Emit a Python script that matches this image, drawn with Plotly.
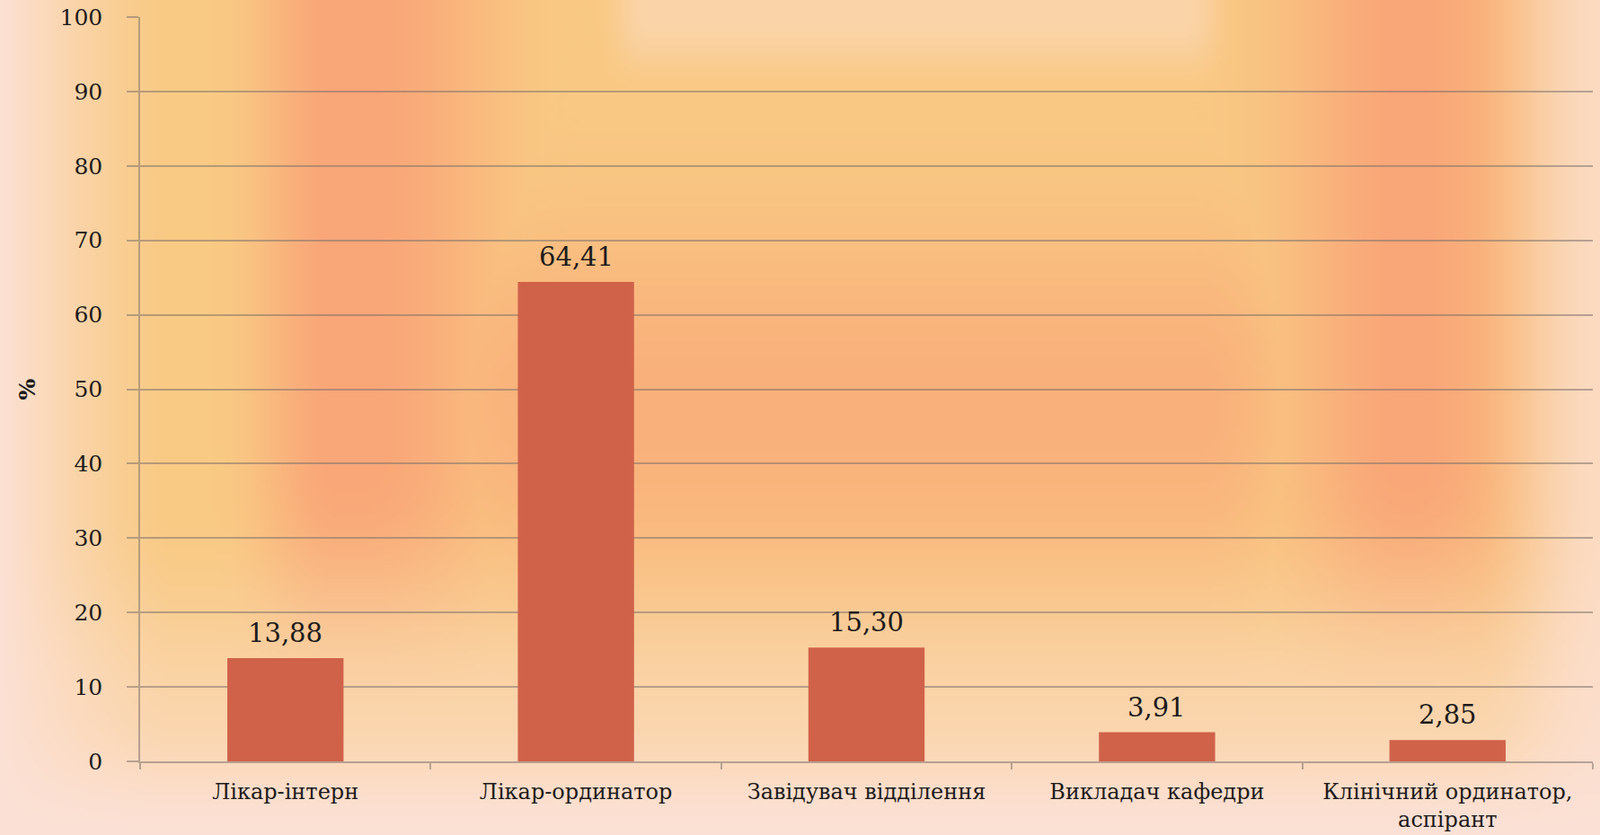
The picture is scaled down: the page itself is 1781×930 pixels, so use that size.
import base64
import struct
import zlib

import numpy as np
import plotly.graph_objects as go

# ---------------- data ----------------
categories = [
    "Лікар-інтерн",
    "Лікар-ординатор",
    "Завідувач відділення",
    "Викладач кафедри",
    "Клінічний ординатор,<br>аспірант",
]
values = [13.88, 64.41, 15.30, 3.91, 2.85]
y_ticks = [0, 10, 20, 30, 40, 50, 60, 70, 80, 90, 100]
y_title = "%"

# ---------------- figure geometry ----------------
W, H = 1781, 930
ML, MR, MT, MB = 156, 8, 19, 82
PW, PH = W - ML - MR, H - MT - MB


# ---------------- decorative background (gradient image) ----------------
def smoothstep(a, b, x):
    t = np.clip((x - a) / (b - a), 0, 1)
    return t * t * (3 - 2 * t)


def make_background(w=446, h=233):
    xs = (np.arange(w) + 0.5) * W / w
    ys = (np.arange(h) + 0.5) * H / h
    X, Y = np.meshgrid(xs, ys)

    yel = np.array([249, 202, 132], float)
    sal = np.array([249, 166, 120], float)
    pale = np.array([252, 225, 214], float)

    fade = 1 - smoothstep(500, 820, Y)
    s_left = smoothstep(240, 375, X) * (1 - smoothstep(400, 640, X)) * fade
    s_right = np.exp(-((X - 1567) / 125) ** 2) * fade
    s_mid = 0.72 * np.exp(-((Y - 450) / 190) ** 2) * smoothstep(300, 650, X) * (1 - smoothstep(1330, 1500, X))
    S = np.clip(np.maximum.reduce([s_left, s_right, s_mid]), 0, 1)

    p_left = np.clip(1 - X / 190, 0, 1) ** 1.3
    p_right = 0.75 * smoothstep(1640, 1781, X)
    p_bottom = 0.55 * smoothstep(560, 850, Y) + 0.45 * smoothstep(800, 930, Y)
    p_top = 0.45 * smoothstep(660, 720, X) * (1 - smoothstep(1320, 1380, X)) * (1 - smoothstep(20, 110, Y))
    P = 1 - (1 - p_left) * (1 - p_right) * (1 - p_bottom) * (1 - p_top)

    base = yel[None, None, :] * (1 - S[..., None]) + sal[None, None, :] * S[..., None]
    col = base * (1 - P[..., None]) + pale[None, None, :] * P[..., None]
    return np.clip(col, 0, 255).astype(np.uint8)


def png_uri(arr):
    h, w, _ = arr.shape
    raw = b"".join(b"\x00" + arr[i].tobytes() for i in range(h))

    def chunk(tag, data):
        c = struct.pack(">I", len(data)) + tag + data
        return c + struct.pack(">I", zlib.crc32(tag + data) & 0xFFFFFFFF)

    png = b"\x89PNG\r\n\x1a\n"
    png += chunk(b"IHDR", struct.pack(">IIBBBBB", w, h, 8, 2, 0, 0, 0))
    png += chunk(b"IDAT", zlib.compress(raw, 9))
    png += chunk(b"IEND", b"")
    return "data:image/png;base64," + base64.b64encode(png).decode()


bg_uri = png_uri(make_background())

# ---------------- chart ----------------
FONT = "DejaVu Serif"
TXT = "#1c1c1c"
GRID = "rgba(125,115,110,0.55)"

fig = go.Figure(
    go.Bar(
        x=categories,
        y=values,
        width=0.4,
        marker=dict(color="#D0624A", line=dict(width=0)),
        hoverinfo="skip",
    )
)

# value labels above bars
for c, v in zip(categories, values):
    fig.add_annotation(
        x=c,
        y=v,
        text=f"{v:.2f}".replace(".", ","),
        showarrow=False,
        yanchor="bottom",
        yshift=9,
        font=dict(family=FONT, size=29, color=TXT),
    )

fig.update_layout(
    width=W,
    height=H,
    margin=dict(l=ML, r=MR, t=MT, b=MB),
    paper_bgcolor="#FCE1D4",
    plot_bgcolor="rgba(0,0,0,0)",
    showlegend=False,
    font=dict(family=FONT, color=TXT),
    images=[
        dict(
            source=bg_uri,
            xref="paper",
            yref="paper",
            x=-ML / PW,
            y=1 + MT / PH,
            sizex=W / PW,
            sizey=H / PH,
            xanchor="left",
            yanchor="top",
            sizing="stretch",
            layer="below",
        )
    ],
)

fig.update_xaxes(
    automargin=False,
    showgrid=False,
    showline=True,
    linecolor=GRID,
    linewidth=1.5,
    ticks="outside",
    tickson="boundaries",
    ticklen=7,
    tickcolor=GRID,
    tickwidth=1.5,
    ticklabelstandoff=11,
    tickfont=dict(family=FONT, size=24, color=TXT),
    fixedrange=True,
)

fig.update_yaxes(
    automargin=False,
    range=[0, 100],
    tickvals=y_ticks,
    showgrid=True,
    gridcolor=GRID,
    gridwidth=1.5,
    zeroline=False,
    showline=True,
    linecolor=GRID,
    linewidth=1.5,
    ticks="outside",
    ticklen=13,
    tickcolor=GRID,
    tickwidth=1.5,
    ticklabelstandoff=22,
    tickfont=dict(family=FONT, size=25, color=TXT),
    title=dict(text="<b>" + y_title + "</b>", font=dict(family=FONT, size=25, color=TXT), standoff=20),
    fixedrange=True,
)

fig.write_html("out.html")
